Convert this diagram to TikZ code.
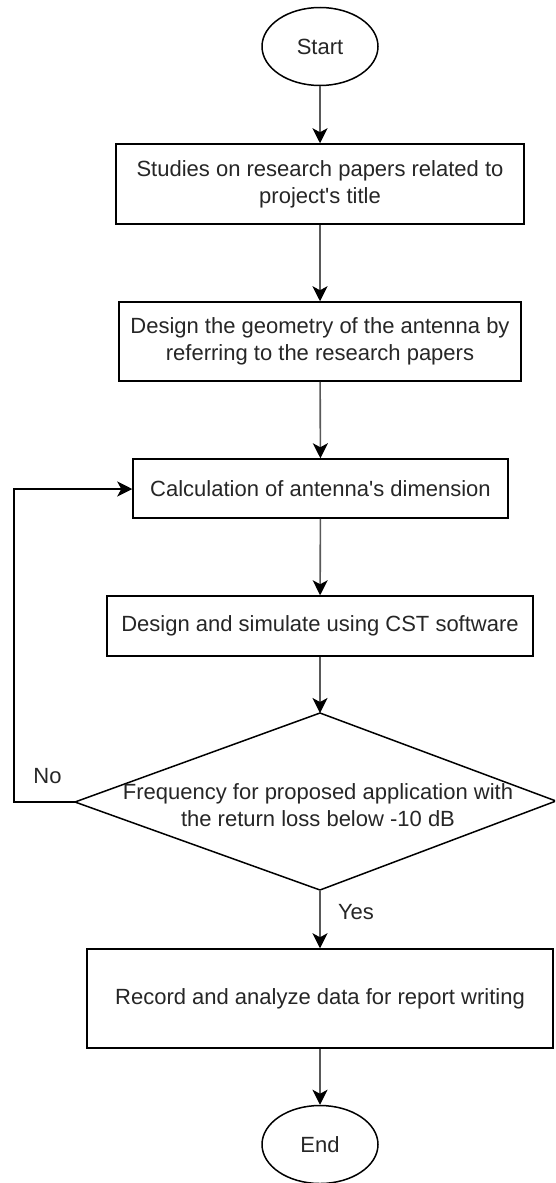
\documentclass[tikz,border=0pt]{standalone}
\usepackage{fontspec}
\setmainfont{Liberation Sans}
\usetikzlibrary{arrows.meta,shapes.geometric}
\begin{document}
\begin{tikzpicture}[x=1pt,y=-1pt,
  every node/.style={font=\fontsize{22}{27}\selectfont, text=black!85},
  term/.style={draw=black, line width=1.5pt, ellipse, minimum width=116pt, minimum height=78pt, inner sep=0pt},
  proc/.style={draw=black, line width=1.5pt, rectangle, inner sep=0pt, align=center},
  flow/.style={draw=black!65, line width=1.6pt, -{Stealth[length=15pt,width=15pt,inset=4pt,color=black]}},
  lbl/.style={inner sep=0pt}]
\useasboundingbox (0,0) rectangle (555,1183);
\clip (0,0) rectangle (555,1183);
\fill[white] (0,0) rectangle (555,1183);

\node[term] (start) at (320,46.5) {Start};
\node[proc, minimum width=408pt, minimum height=80pt] (b1) at (320,184)
  {Studies on research papers related to\\project\textquotesingle s title};
\node[proc, minimum width=402pt, minimum height=79pt] (b2) at (320,341.5)
  {Design the geometry of the antenna by\\referring to the research papers};
\node[proc, minimum width=375pt, minimum height=59pt] (b3) at (320.5,488.5)
  {Calculation of antenna\textquotesingle s dimension};
\node[proc, minimum width=426pt, minimum height=60pt] (b4) at (320,626)
  {Design and simulate using CST software};

\coordinate (dT) at (320,713);
\coordinate (dL) at (75,802);
\coordinate (dB) at (320,890);
\coordinate (dR) at (556,801);
\draw[black, line width=1.5pt, line join=miter] (dT) -- (dR) -- (dB) -- (dL) -- cycle;
\node[lbl, align=center] (dec) at (318,805)
  {Frequency for proposed application with\\the return loss below -10 dB};

\node[proc, minimum width=466pt, minimum height=99pt] (b5) at (320,998.5)
  {Record and analyze data for report writing};
\node[term] (end) at (320,1144.5) {End};

\coordinate (lc1) at (14,802);
\coordinate (lc2) at (14,489);

\draw[flow] (start) -- (b1);
\draw[flow] (b1) -- (b2);
\draw[flow] (b2) -- (b3);
\draw[flow] (b3) -- (b4);
\draw[flow] (b4.south) -- (dT);
\draw[flow] (dB) -- (b5.north);
\draw[flow] (b5) -- (end);
\draw[flow, draw=black] (dL) -- (lc1) -- (lc2) -- (b3.west |- lc2);

\node[lbl] (no) at (47.5,776) {No};
\node[lbl] (yes) at (356,912) {Yes};
\end{tikzpicture}
\end{document}
